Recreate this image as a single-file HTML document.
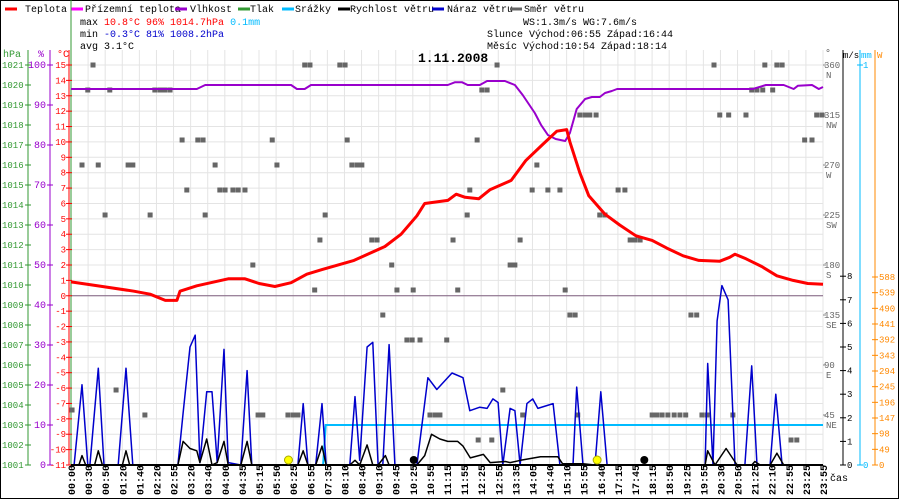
<!DOCTYPE html>
<html><head><meta charset="utf-8"><style>
body{margin:0;background:#fff;}
svg{display:block;font-family:"Liberation Mono",monospace;}
</style></head><body>
<svg id="c" width="900" height="500" viewBox="0 0 900 500">
<rect x="0.5" y="0.5" width="898" height="498" fill="#fff" stroke="#000"/>
<g id="grid"></g>
<g id="legend" font-size="10">
 <line x1="5" y1="9" x2="17" y2="9" stroke="#f00" stroke-width="3"/><text x="25" y="12">Teplota</text>
 <line x1="71" y1="9" x2="83" y2="9" stroke="#f0f" stroke-width="3"/><text x="85" y="12">Přízemní teplota</text>
 <line x1="175" y1="9" x2="187" y2="9" stroke="#90c" stroke-width="3"/><text x="190" y="12">Vlhkost</text>
 <line x1="238" y1="9" x2="250" y2="9" stroke="#393" stroke-width="3"/><text x="250" y="12">Tlak</text>
 <line x1="282" y1="9" x2="294" y2="9" stroke="#0bf" stroke-width="3"/><text x="295" y="12">Srážky</text>
 <line x1="338" y1="9" x2="350" y2="9" stroke="#000" stroke-width="3"/><text x="350" y="12">Rychlost větru</text>
 <line x1="432" y1="9" x2="444" y2="9" stroke="#00c" stroke-width="3"/><text x="447" y="12">Náraz větru</text>
 <line x1="510" y1="9" x2="522" y2="9" stroke="#666" stroke-width="3"/><text x="524" y="12">Směr větru</text>
</g>
<line x1="71" y1="0" x2="71" y2="20" stroke="#393"/>
<g font-size="10">
 <text x="80" y="25">max <tspan fill="#f00">10.8°C  96%  1014.7hPa</tspan>  <tspan fill="#0bf">0.1mm</tspan></text>
 <text x="80" y="37">min <tspan fill="#00c">-0.3°C  81%  1008.2hPa</tspan></text>
 <text x="80" y="49">avg  3.1°C</text>
 <text x="523" y="25">WS:1.3m/s   WG:7.6m/s</text>
 <text x="487" y="37">Slunce Východ:06:55  Západ:16:44</text>
 <text x="487" y="49">Měsíc  Východ:10:54  Západ:18:14</text>
</g>
<text x="418" y="62" font-size="13" font-weight="bold">1.11.2008</text>
<g id="axes" font-size="10"></g>
<g id="marks"></g>
</svg>
<script>
// ---- data ----
const timeLabels=["00:00","00:30","00:50","01:20","01:40","02:20","02:55","03:20","03:40","04:00","04:35","05:15","05:50","06:25","06:55","07:35","08:10","08:40","09:10","09:45","10:25","10:55","11:15","11:55","12:25","12:55","13:35","14:05","14:40","15:10","15:55","16:40","17:15","17:45","18:15","18:50","19:25","19:55","20:30","20:50","21:25","22:10","22:55","23:25","23:55"];
const tempTimes=[0,60,120,151,180,202,208,240,300,332,359,389,420,450,479,540,599,630,660,675,719,735,752,778,800,840,868,899,927,946,952,971,988,1019,1047,1078,1109,1137,1168,1198,1238,1257,1267,1288,1318,1347,1378,1406,1435];
const tempValues=[0.9,0.6,0.3,0.1,-0.3,-0.3,0.3,0.65,1.1,1.1,0.8,0.6,0.85,1.4,1.7,2.3,3.2,4.0,5.2,6.0,6.2,6.6,6.4,6.3,6.9,7.5,8.8,9.8,10.7,10.8,10.0,8.0,6.5,5.3,4.6,3.9,3.6,3.1,2.6,2.3,2.25,2.5,2.7,2.4,1.9,1.3,1.0,0.8,0.75];
const humTimes=[0,240,256,420,431,446,458,719,733,746,757,780,794,828,847,862,885,897,910,925,943,952,965,981,994,1009,1019,1032,1042,1301,1326,1360,1379,1387,1414,1427,1435];
const humValues=[94,94,95,95,94,94,95,95,95.7,95.7,95,95,96,96,95,92.5,88,85,82.5,81.5,81,83,89,91.5,92,92,93,93.5,94,94,95,95,94,94.8,95,94,94.5];
const gustTimes=[0,6,21,32,36,52,63,90,105,118,204,214,227,237,246,259,269,279,292,300,324,336,345,433,443,452,467,479,487,532,542,551,565,576,586,595,607,618,660,681,698,727,748,761,780,794,805,815,824,838,847,857,870,881,891,920,933,958,965,977,1000,1011,1023,1210,1215,1225,1233,1242,1254,1267,1286,1299,1309,1334,1345,1357,1435];
const gustValues=[0,0,3.4,0,0,4.1,0,0,4.1,0,0,2.2,5.0,5.5,0.1,3.1,3.1,0.1,4.9,0.1,0,4.0,0,0,2.6,0,0,2.6,0,0,2.9,0.2,5.0,5.2,0,0,5.1,0,0,3.7,3.2,3.9,3.7,2.3,2.45,2.4,2.8,2.65,0,2.4,2.3,0,2.6,2.8,2.4,2.6,0,0,3.3,0,0,3.1,0,0,4.3,0,6.1,7.6,7.0,0,0,4.2,0,0,3.0,0,0];
const windTimes=[0,15,21,28,45,52,60,98,105,112,204,214,227,240,246,259,269,279,292,300,324,336,345,433,443,452,467,479,487,532,542,551,565,576,586,600,607,660,675,688,704,719,738,748,762,787,800,829,838,858,896,929,938,977,1000,1210,1215,1229,1250,1271,1299,1305,1315,1334,1347,1360,1435];
const windValues=[0,0,0.4,0,0,0.6,0,0,0.6,0,0,1.0,0.7,0.6,0.1,1.1,0,0.1,1.0,0,0,1.0,0,0,0.6,0,0,0.8,0,0,0.2,0,0.85,0,0,0.4,0,0,0.4,1.3,1.1,1.0,1.0,0.8,0.3,0.45,0.1,0.15,0.1,0.2,0.35,0.35,0.05,0.05,0,0,0.6,0,0.7,0,0,0.15,0,0,0.5,0,0];
const dirTimes=[2,21,42,32,52,65,74,86,109,118,141,151,160,170,179,189,212,221,242,252,256,275,284,294,309,319,332,347,357,366,384,393,414,424,433,446,456,465,475,485,513,523,527,536,546,555,574,584,595,612,622,641,651,653,666,685,695,704,717,729,738,756,761,775,777,784,794,803,813,824,838,847,857,862,880,889,910,933,943,952,962,967,971,981,990,1002,1009,1019,1044,1057,1067,1076,1086,1109,1118,1128,1139,1151,1162,1173,1183,1194,1204,1214,1227,1238,1255,1263,1288,1299,1309,1320,1324,1339,1347,1357,1374,1385,1400,1414,1423,1433];
const dirValues=[49.5,270,360,337.5,270,225,337.5,67.5,270,270,45,225,337.5,337.5,337.5,337.5,292.5,247.5,292.5,292.5,225,270,247.5,247.5,247.5,247.5,247.5,180,45,45,292.5,270,45,45,45,360,360,157.5,202.5,225,360,360,292.5,270,270,270,202.5,202.5,135,180,157.5,112.5,112.5,157.5,112.5,45,45,45,112.5,202.5,157.5,225,247.5,292.5,22.5,337.5,337.5,22.5,360,67.5,180,180,202.5,45,247.5,270,247.5,247.5,157.5,135,135,45,315,315,315,315,225,225,247.5,247.5,202.5,202.5,202.5,45,45,45,45,45,45,45,135,135,45,45,360,315,315,45,315,337.5,337.5,337.5,360,337.5,360,360,22.5,22.5,292.5,292.5,315,315];
const rainTimes=[0,481,486,1435];
const rainValues=[0,0,0.1,0.1];
const sunEvents=[415,1004];
const moonEvents=[654,1094];
const hpaTicks=[1001,1002,1003,1004,1005,1006,1007,1008,1009,1010,1011,1012,1013,1014,1015,1016,1017,1018,1019,1020,1021];
const humTicks=[0,10,20,30,40,50,60,70,80,90,100];
const dirTicks=[45,90,135,180,225,270,315,360];
const dirNames=["NE","E","SE","S","SW","W","NW","N"];
const msTicks=[0,1,2,3,4,5,6,7,8];
const wTicks=[0,49,98,147,196,245,294,343,392,441,490,539,588];

// ---- scales ----
const X0=71,X1=823,TOP=65,BOT=465;
const xT=m=>X0+m/1435*(X1-X0);
const yC=t=>BOT-(t+11)/26*(BOT-TOP);
const yH=h=>BOT-h/100*(BOT-TOP);
const yP=p=>BOT-(p-1001)/20*(BOT-TOP);
const yD=d=>BOT-d/360*(BOT-TOP);
const yM=v=>BOT-v*23.6;
const yR=r=>BOT-r*(BOT-TOP);
const yW=w=>BOT-w/588*188;
const NS='http://www.w3.org/2000/svg';
function mk(tag,attrs,parent){const e=document.createElementNS(NS,tag);for(const k in attrs)e.setAttribute(k,attrs[k]);parent.appendChild(e);return e;}
const grid=document.getElementById('grid'),axes=document.getElementById('axes'),marks=document.getElementById('marks');

// grid
for(let t=-11;t<=15;t++){const l=mk('line',{x1:X0,x2:X1,y1:yC(t),y2:yC(t),stroke:'#e4e4e4'},grid);

}
timeLabels.forEach((lab,i)=>{const x=X0+i*(X1-X0)/(timeLabels.length-1);
const l=mk('line',{x1:x,x2:x,y1:50,y2:BOT,stroke:'#e4e4e4'},grid);


const tk=mk('line',{x1:x,x2:x,y1:BOT,y2:BOT+3,stroke:'#000'},axes);


const tx=mk('text',{x:0,y:0,transform:`translate(${x+4},495) rotate(-90)`,'font-size':'10','font-weight':'bold'},axes);
tx.textContent=lab;

});
const zl=mk('line',{x1:X0,x2:X1,y1:yC(0),y2:yC(0),stroke:'#806080'},grid);



// left axes
mk('line',{x1:28,x2:28,y1:50,y2:BOT,stroke:'#393'},axes);
mk('line',{x1:50,x2:50,y1:50,y2:BOT,stroke:'#90c'},axes);
mk('line',{x1:69,x2:69,y1:50,y2:BOT,stroke:'#f00'},axes);
mk('line',{x1:71,x2:71,y1:20,y2:BOT,stroke:'#393'},axes);
[['hPa',3,'#393'],['%',38,'#90c'],['°C',57,'#f00']].forEach(a=>{const t=mk('text',{x:a[1],y:57,fill:a[2]},axes);t.textContent=a[0];

});
hpaTicks.forEach(p=>{mk('line',{x1:25,x2:31,y1:yP(p),y2:yP(p),stroke:'#393'},axes);
const t=mk('text',{x:2,y:yP(p)+3,fill:'#393','font-size':'9'},axes);t.textContent=p;

});
humTicks.forEach(h=>{mk('line',{x1:47,x2:53,y1:yH(h),y2:yH(h),stroke:'#90c'},axes);
const t=mk('text',{x:46,y:yH(h)+3,fill:'#90c','text-anchor':'end'},axes);t.textContent=h;

});
for(let c=-11;c<=15;c++){mk('line',{x1:66,x2:72,y1:yC(c),y2:yC(c),stroke:'#f00'},axes);
const t=mk('text',{x:66,y:yC(c)+3,fill:'#f00','text-anchor':'end','font-size':'9'},axes);t.textContent=c;

}

// right axes
const deg=mk('text',{x:825,y:56,fill:'#555'},axes);deg.textContent='°';
dirTicks.forEach((d,i)=>{mk('line',{x1:X1,x2:X1+3,y1:yD(d),y2:yD(d),stroke:'#888'},axes);
const t=mk('text',{x:824,y:yD(d)+3,fill:'#666','font-size':'9'},axes);t.textContent=d;


const n=mk('text',{x:826,y:yD(d)+13,fill:'#666','font-size':'9'},axes);n.textContent=dirNames[i];

});
mk('line',{x1:843,x2:843,y1:50,y2:BOT,stroke:'#000'},axes);
mk('line',{x1:860,x2:860,y1:50,y2:BOT,stroke:'#0bf'},axes);
mk('line',{x1:875,x2:875,y1:50,y2:BOT,stroke:'#f80'},axes);
[['m/s',843,'#000'],['mm',861,'#0bf'],['W',877,'#f80']].forEach(a=>{const t=mk('text',{x:a[1],y:58,fill:a[2],'font-size':'9'},axes);t.textContent=a[0];

});
msTicks.forEach(v=>{mk('line',{x1:840,x2:846,y1:yM(v),y2:yM(v),stroke:'#000'},axes);
const t=mk('text',{x:847,y:yM(v)+3,'font-size':'9'},axes);t.textContent=v;

});
[0,1].forEach(r=>{mk('line',{x1:857,x2:863,y1:yR(r),y2:yR(r),stroke:'#0bf'},axes);
const t=mk('text',{x:863,y:yR(r)+3,fill:'#0bf','font-size':'9'},axes);t.textContent=r;

});
wTicks.forEach(w=>{mk('line',{x1:872,x2:878,y1:yW(w),y2:yW(w),stroke:'#f80'},axes);
const t=mk('text',{x:879,y:yW(w)+3,fill:'#f80','font-size':'9'},axes);t.textContent=w;

});
const cas=mk('text',{x:830,y:481},axes);cas.textContent='čas';



// series
function path(ts,vs,ys,color,w,name){const d=ts.map((t,i)=>(i?'L':'M')+xT(t).toFixed(1)+','+ys(vs[i]).toFixed(1)).join('');
const p=mk('path',{d:d,fill:'none',stroke:color,'stroke-width':w,'stroke-linejoin':'round'},marks);

}
dirTimes.forEach((t,i)=>{const r=mk('rect',{x:xT(t)-2.5,y:yD(dirValues[i])-2.5,width:5,height:5,fill:'#666'},marks);

});
(function(){let d='';rainTimes.forEach((t,i)=>{d+=(i?'L':'M')+xT(t).toFixed(1)+','+yR(rainValues[i]).toFixed(1);});
const p=mk('path',{d:d,fill:'none',stroke:'#0bf','stroke-width':2},marks);

})();
path(humTimes,humValues,yH,'#90c',2,'humidity-line');
path(gustTimes,gustValues,yM,'#00c',1.5,'gust-line');
path(windTimes,windValues,yM,'#000',1.5,'wind-speed-line');
path(tempTimes,tempValues,yC,'#f00',3,'temperature-line');
const base=mk('line',{x1:X0,x2:X1,y1:BOT,y2:BOT,stroke:'#000','stroke-width':2},marks);


sunEvents.forEach(t=>{const c=mk('circle',{cx:xT(t),cy:BOT-5,r:4,fill:'#ff0',stroke:'#aa0'},marks);

});
moonEvents.forEach(t=>{const c=mk('circle',{cx:xT(t),cy:BOT-5,r:4,fill:'#000'},marks);

});
</script>
</body></html>
